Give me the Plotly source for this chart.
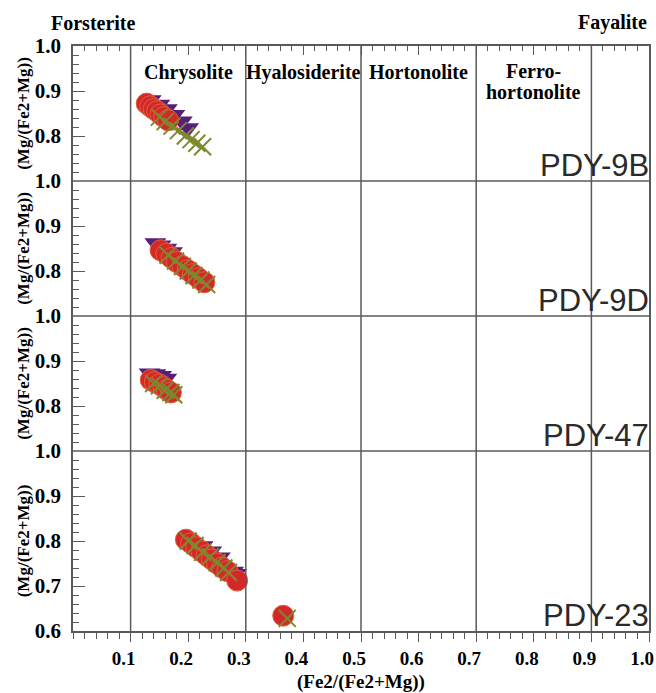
import plotly.graph_objects as go
from plotly.subplots import make_subplots

# ---------------- data ----------------
samples = ["PDY-9B", "PDY-9D", "PDY-47", "PDY-23"]

# red circles
red_x = [
    [0.128, 0.134, 0.140, 0.146, 0.152, 0.158, 0.165],
    [0.152, 0.162, 0.171, 0.180, 0.190, 0.199, 0.208, 0.218, 0.228],
    [0.135, 0.142, 0.150, 0.157, 0.163, 0.170],
    [0.196, 0.205, 0.214, 0.223, 0.232, 0.241, 0.250, 0.259, 0.268, 0.285, 0.365],
]
red_y = [
    [0.872, 0.866, 0.860, 0.855, 0.848, 0.842, 0.835],
    [0.846, 0.838, 0.829, 0.820, 0.811, 0.802, 0.793, 0.784, 0.775],
    [0.858, 0.853, 0.848, 0.842, 0.836, 0.830],
    [0.803, 0.795, 0.786, 0.777, 0.768, 0.759, 0.750, 0.741, 0.733, 0.712, 0.634],
]
# purple triangles
pur_x = [
    [0.135, 0.150, 0.163, 0.176, 0.189, 0.200],
    [0.143, 0.152, 0.162, 0.172],
    [0.133, 0.143, 0.153, 0.162],
    [0.225, 0.240, 0.255, 0.278, 0.283],
]
pur_y = [
    [0.880, 0.870, 0.860, 0.847, 0.833, 0.818],
    [0.862, 0.857, 0.850, 0.842],
    [0.873, 0.871, 0.867, 0.861],
    [0.789, 0.777, 0.764, 0.732, 0.727],
]
# olive crosses
olv_x = [
    [0.150, 0.160, 0.172, 0.183, 0.195, 0.205, 0.215, 0.225],
    [0.165, 0.178, 0.190, 0.200, 0.210, 0.222, 0.232],
    [0.140, 0.150, 0.160, 0.170, 0.175],
    [0.200, 0.212, 0.225, 0.238, 0.250, 0.262, 0.270, 0.372],
]
olv_y = [
    [0.842, 0.832, 0.822, 0.812, 0.800, 0.792, 0.784, 0.776],
    [0.835, 0.822, 0.810, 0.800, 0.790, 0.780, 0.770],
    [0.850, 0.845, 0.835, 0.830, 0.825],
    [0.800, 0.790, 0.775, 0.765, 0.752, 0.740, 0.730, 0.628],
]

zone_names = ["Chrysolite", "Hyalosiderite", "Hortonolite"]
zone_centers = [0.2, 0.4, 0.6]
zone_bounds = [0.1, 0.3, 0.5, 0.7, 0.9]
x_ticks = [0.1, 0.2, 0.3, 0.4, 0.5, 0.6, 0.7, 0.8, 0.9, 1.0]
y_ticks_small = [0.8, 0.9, 1.0]
y_ticks_big = [0.6, 0.7, 0.8, 0.9, 1.0]

# ---------------- styling ----------------
SERIF = "Liberation Serif, Times New Roman, Times, serif"
RED = "#d2282a"
PURPLE = "#56207a"
OLIVE = "#7c8a2c"
LINEC = "#5a5a5a"

row_h = [135, 135, 135, 180]
fig = make_subplots(rows=4, cols=1, shared_xaxes=True, vertical_spacing=0,
                    row_heights=row_h)

for i in range(4):
    r = i + 1
    fig.add_trace(go.Scatter(x=pur_x[i], y=pur_y[i], mode="markers",
                             marker=dict(symbol="triangle-down", size=19, color=PURPLE,
                                         line=dict(width=0)),
                             showlegend=False, hoverinfo="skip"), row=r, col=1)
    fig.add_trace(go.Scatter(x=red_x[i], y=red_y[i], mode="markers",
                             marker=dict(symbol="circle", size=21, color=RED,
                                         line=dict(width=1, color="#e0603a")),
                             showlegend=False, hoverinfo="skip"), row=r, col=1)
    fig.add_trace(go.Scatter(x=olv_x[i], y=olv_y[i], mode="markers",
                             marker=dict(symbol="x-thin-open", size=17, color=OLIVE,
                                         line=dict(width=2, color=OLIVE)),
                             showlegend=False, hoverinfo="skip"), row=r, col=1)

tickfont = dict(family=SERIF, size=19, color="black", weight="bold")
ytickfont = dict(family=SERIF, size=21, color="black", weight="bold")

for i in range(4):
    r = i + 1
    xa = dict(range=[0, 1.0], showgrid=False, zeroline=False, mirror=False,
              linecolor=LINEC, linewidth=1.5, automargin=False)
    if r == 1:
        xa.update(side="top", showline=True, ticks="inside", tickvals=x_ticks, ticklen=9,
                  tickcolor=LINEC, showticklabels=False,
                  minor=dict(tickmode="linear", tick0=0, dtick=0.02, ticks="inside",
                             ticklen=5, tickcolor=LINEC))
    elif r == 4:
        xa.update(showline=True, ticks="outside", tickvals=x_ticks,
                  ticktext=[f"{v:.1f}" for v in x_ticks], ticklen=9,
                  tickcolor=LINEC, showticklabels=True, tickfont=tickfont,
                  ticklabelshift=-7, ticklabelstandoff=0,
                  minor=dict(tickmode="linear", tick0=0, dtick=0.02, ticks="outside",
                             ticklen=6, tickcolor=LINEC))
    else:
        xa.update(showline=False, ticks="", showticklabels=False)
    fig.update_xaxes(row=r, col=1, **xa)

    yvals = y_ticks_big if r == 4 else y_ticks_small
    yr = [0.6, 1.0] if r == 4 else [0.7, 1.0]
    fig.update_yaxes(row=r, col=1, range=yr, showgrid=False, zeroline=False,
                     showline=True, mirror=True, linecolor=LINEC, linewidth=1.5,
                     automargin=False,
                     ticks="inside", tickvals=yvals,
                     ticktext=[f"{v:.1f}" for v in yvals], ticklen=12,
                     tickcolor=LINEC, tickfont=ytickfont, ticklabelstandoff=6,
                     minor=dict(tickmode="linear", tick0=0, dtick=0.02, ticks="inside",
                                ticklen=6, tickcolor=LINEC),
                     title=dict(text="(Mg/(Fe2+Mg))",
                                font=dict(family=SERIF, size=17, color="black", weight="bold"),
                                standoff=1))

# zone boundary lines across all panels
for xb in zone_bounds:
    fig.add_shape(type="line", xref="x", yref="paper", x0=xb, x1=xb, y0=0, y1=1,
                  line=dict(color=LINEC, width=1.5), layer="above")

# horizontal separators between panels
tot = sum(row_h)
acc = 0
for h in reversed(row_h[1:]):
    acc += h
    yb = acc / tot
    fig.add_shape(type="line", xref="paper", yref="paper", x0=0, x1=1, y0=yb, y1=yb,
                  line=dict(color=LINEC, width=1.5), layer="above")

labfont = dict(family=SERIF, size=20, color="black", weight="bold")
for name, xc in zip(zone_names, zone_centers):
    fig.add_annotation(x=xc, y=0.942, xref="x", yref="y", text=name, showarrow=False,
                       font=labfont, xanchor="center", yanchor="middle")
fig.add_annotation(x=0.8, y=0.944, xref="x", yref="y", text="Ferro-", showarrow=False,
                   font=labfont, xanchor="center", yanchor="middle")
fig.add_annotation(x=0.8, y=0.898, xref="x", yref="y", text="hortonolite", showarrow=False,
                   font=labfont, xanchor="center", yanchor="middle")

fig.add_annotation(x=-0.042, y=1.04, xref="paper", yref="paper", text="Forsterite",
                   showarrow=False, font=labfont, xanchor="left", yanchor="middle")
fig.add_annotation(x=1.0, y=1.04, xref="paper", yref="paper", text="Fayalite",
                   showarrow=False, font=labfont, xanchor="right", yanchor="middle")

# x-axis title
fig.add_annotation(x=0.5, y=-0.0875, xref="paper", yref="paper", text="(Fe2/(Fe2+Mg))",
                   showarrow=False, xanchor="center", yanchor="middle",
                   font=dict(family=SERIF, size=19, color="black", weight="bold"))

ybottoms = [0.7, 0.7, 0.7, 0.6]
for i, s in enumerate(samples):
    yref = "y" if i == 0 else f"y{i+1}"
    xref = "x" if i == 0 else f"x{i+1}"
    fig.add_annotation(x=1.0, y=ybottoms[i], xref=xref, yref=yref, text=s,
                       showarrow=False, xanchor="right", yanchor="bottom",
                       xshift=2, yshift=-4,
                       font=dict(family="Liberation Sans, Arial, sans-serif", size=31,
                                 color="#2a2a2a"))

fig.update_layout(width=656, height=693, margin=dict(l=73, r=7, t=46, b=62),
                  plot_bgcolor="white", paper_bgcolor="white", showlegend=False)

fig.write_html("out.html")
